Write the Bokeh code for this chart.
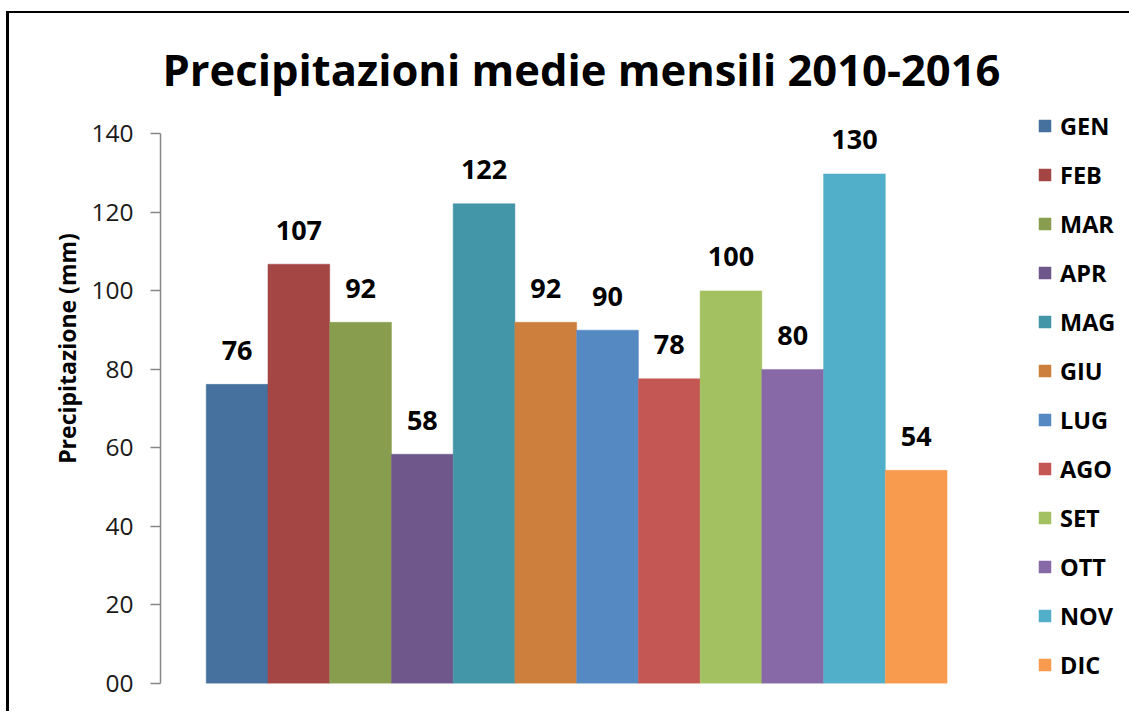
from bokeh.plotting import figure
from bokeh.models import (ColumnDataSource, Legend, LegendItem, FixedTicker,
                          PrintfTickFormatter, Range1d, Label)
from bokeh.core.properties import value
from bokeh.embed import file_html
from bokeh.resources import INLINE

# ---- data ----
months = ["GEN", "FEB", "MAR", "APR", "MAG", "GIU", "LUG", "AGO", "SET", "OTT", "NOV", "DIC"]
precip = [76.2, 106.8, 92.0, 58.4, 122.2, 92.0, 90.0, 77.6, 100.0, 80.0, 129.8, 54.3]
value_labels = ["76", "107", "92", "58", "122", "92", "90", "78", "100", "80", "130", "54"]
colors = ["#46709E", "#A34644", "#889E4E", "#6F578B", "#4395A8", "#CD803E",
          "#5589C2", "#C45754", "#A3C160", "#8669A6", "#52AFC9", "#F99B4E"]
y_ticks = [0, 20, 40, 60, 80, 100, 120, 140]
title_text = "Precipitazioni medie mensili 2010-2016"
y_label = "Precipitazione (mm)"

FONT = "Open Sans"

xs = list(range(len(months)))
src = ColumnDataSource(dict(x=xs, top=precip, color=colors, month=months, label=value_labels))

p = figure(width=1123, height=700, output_backend="svg", toolbar_location=None,
           title_location=None,
           x_range=Range1d(-1.241, 14.504), y_range=Range1d(0, 170.66),
           min_border_left=151, min_border_right=0, min_border_top=0, min_border_bottom=30)
p.styles = {"margin-left": "6px", "margin-top": "11px",
            "border-left": "3px solid black", "border-top": "2px solid black"}

p.background_fill_color = "white"
p.border_fill_color = "white"
p.outline_line_color = None
p.grid.visible = False
p.xaxis.visible = False

# title (placed in the plot area, screen units relative to the frame)
title = Label(x=421, y=614, x_units="screen", y_units="screen", text=title_text,
              text_align="center", text_baseline="alphabetic",
              text_font=FONT, text_font_size="43.5px", text_font_style="bold",
              text_color="#000000")
p.add_layout(title)

# y axis
ya = p.yaxis[0]
ya.ticker = FixedTicker(ticks=y_ticks)
ya.formatter = PrintfTickFormatter(format="%02d")
ya.bounds = (0, 140)
ya.axis_line_color = "#868686"
ya.axis_line_width = 1.5
ya.major_tick_line_color = "#868686"
ya.major_tick_line_width = 1.5
ya.major_tick_in = 0
ya.major_tick_out = 10
ya.minor_tick_line_color = None
ya.major_label_standoff = 17
ya.major_label_text_font = FONT
ya.major_label_text_font_size = "24.5px"
ya.major_label_text_color = "#1a1a1a"
ya.axis_label = y_label
ya.axis_label_text_font = FONT
ya.axis_label_text_font_size = "23px"
ya.axis_label_text_font_style = "bold"
ya.axis_label_text_color = "#000000"
ya.axis_label_standoff = 5

bars = p.vbar(x="x", top="top", bottom=0, width=1.0, source=src,
              fill_color="color", line_color="color", line_width=0.5)

p.text(x="x", y="top", text="label", source=src, text_font=value(FONT),
       text_font_style="bold", text_font_size="27px", text_align="center",
       text_baseline="alphabetic", y_offset=-34, text_color="#000000")

items = [LegendItem(label=m, renderers=[bars], index=i) for i, m in enumerate(months)]
legend = Legend(items=items, location=(877, 2), orientation="vertical",
                glyph_width=15, glyph_height=15, label_standoff=8,
                label_text_font=FONT, label_text_font_size="23.5px",
                label_text_font_style="bold", label_text_color="#000000",
                label_height=33, spacing=16, padding=0, margin=0,
                border_line_color=None, background_fill_alpha=0)
p.add_layout(legend)

open("out.html", "w").write(file_html(p, INLINE))
